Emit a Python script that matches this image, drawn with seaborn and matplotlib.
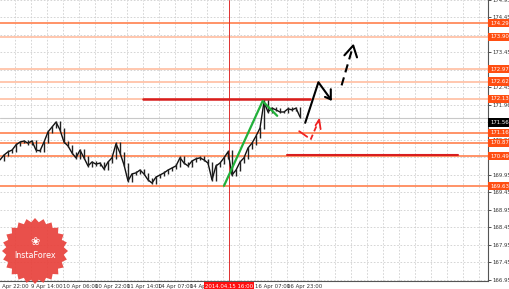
import numpy as np
import pandas as pd
import matplotlib
matplotlib.use("Agg")
import matplotlib.pyplot as plt
import matplotlib.transforms as mtransforms
from matplotlib.patches import Polygon
import seaborn as sns

# ---------------- data ----------------
hours = np.arange(0, 152, 2)
close = [170.38, 170.52, 170.61, 170.66, 170.81, 170.89, 170.92, 170.86, 170.92, 170.66,
         170.64, 170.89, 171.18, 171.32, 171.46, 171.24, 170.89, 170.78, 170.58, 170.44,
         170.66, 170.44, 170.21, 170.32, 170.26, 170.29, 170.12, 170.32, 170.44, 170.84,
         170.58, 170.24, 169.78, 169.98, 170.01, 170.09, 169.98, 169.81, 169.72, 169.89,
         169.95, 170.01, 170.09, 170.15, 170.21, 170.44, 170.29, 170.21, 170.35, 170.41,
         170.44, 170.38, 170.29, 169.81, 170.21, 170.29, 170.44, 170.61, 169.95, 170.09,
         170.32, 170.44, 170.72, 170.86, 171.06, 171.29, 172.04, 171.75, 171.86, 171.81,
         171.75, 171.75, 171.84, 171.81, 171.86, 171.61]

level_values = [174.29, 173.90, 172.97, 172.62, 172.13, 171.16, 170.87, 170.49, 169.63]
level_labels = ["174.29", "173.90", "172.97", "172.62", "172.13", "171.16", "170.87", "170.49", "169.63"]
level_strong = [True, False, False, False, False, True, True, True, True]

ytick_values = [174.95, 174.45, 173.95, 173.45, 172.95, 172.45, 171.96, 171.46, 170.96,
                170.46, 169.95, 169.45, 168.95, 168.45, 167.95, 167.45, 166.95]
ytick_labels = ["174.95", "174.45", "173.95", "173.45", "172.95", "172.45", "171.96", "171.46", "170.96",
                "170.46", "169.95", "169.45", "168.95", "168.45", "167.95", "167.45", "166.95"]

xtick_hours = [15.5, 31.5, 47.5, 63.5, 79, 95, 127.5, 143.5]
xtick_labels = ["9 Apr 14:00", "10 Apr 06:00", "10 Apr 22:00", "11 Apr 14:00",
                "14 Apr 07:00", "14 Apr 23:00", "16 Apr 07:00", "16 Apr 23:00"]
first_label_hour = -1.5
first_label = "8 Apr 22:00"

current_price = 171.57
current_label = "171.56"
cursor_hour = 114.5
cursor_label = "2014.04.15 16:00"

# analyst drawings (hour, price)
green_x = [112, 131.3, 138.6]
green_y = [169.64, 172.06, 171.64]
red_res_x = [71.5, 155]
red_res_y = [172.11, 172.11]
red_sup_x = [143.5, 229]
red_sup_y = [170.51, 170.51]
black_x = [152.6, 159.2, 165.4]
black_y = [171.44, 172.60, 172.11]
black_head_x = [162.5, 165.4, 165.4]
black_head_y = [172.18, 172.11, 172.40]
dash_x = [170.8, 176.6]
dash_y = [172.51, 173.65]
dash_head_x = [172.2, 176.6, 178.5]
dash_head_y = [173.37, 173.65, 173.31]
redarrow_x = [149.6, 153.6]
redarrow_y = [171.20, 171.04]
reddash_x = [155.3, 159.6]
reddash_y = [170.96, 171.53]
redhead_x = [157.8, 159.6, 160.3]
redhead_y = [171.37, 171.53, 171.26]

# ---------------- figure ----------------
sns.set_style("white")
plt.rcParams['font.family'] = ['DejaVu Sans']

FS = 3.9
W, H = 510, 289
fig = plt.figure(figsize=(W / 100, H / 100), dpi=100)
ax = fig.add_axes([0, 8 / H, 488 / W, 281 / H])
ax.set_xlim(0, 244)
ax.set_ylim(166.92, 174.95)

# grid
for v in ytick_values:
    ax.axhline(v, color="#cfcfcf", lw=0.6, ls=(0, (2, 2)), zorder=0)
for gx in np.arange(7.5, 244, 8):
    ax.axvline(gx, color="#cfcfcf", lw=0.6, ls=(0, (2, 2)), zorder=0)

# level lines
for v, strong in zip(level_values, level_strong):
    ax.axhline(v, color="#ff8a5c" if strong else "#ffc3a8", lw=1.3, zorder=1)

# current price line
ax.axhline(current_price, color="#c8c8c8", lw=0.8, zorder=1)

# cursor line
ax.axvline(cursor_hour, color="#e03030", lw=0.7, zorder=1)

# price series
df = pd.DataFrame({"hour": hours, "close": close})
sns.lineplot(data=df, x="hour", y="close", ax=ax, color="#111111", lw=1.0, zorder=3)
lo = np.minimum(df["close"].values[:-1], df["close"].values[1:])
hi = np.maximum(df["close"].values[:-1], df["close"].values[1:])
ax.vlines(df["hour"].values[1:], lo - 0.04, hi + 0.04, color="#222222", lw=1.0, zorder=3)

# drawings
ax.plot(green_x, green_y, color="#22b03a", lw=1.6, zorder=4)
ax.plot(red_res_x, red_res_y, color="#d81e1e", lw=1.8, zorder=2)
ax.plot(red_sup_x, red_sup_y, color="#d81e1e", lw=1.5, zorder=2)
ax.plot(black_x, black_y, color="black", lw=1.5, zorder=4)
ax.plot(black_head_x, black_head_y, color="black", lw=1.5, zorder=4)
ax.plot(dash_x, dash_y, color="black", lw=1.5, ls=(0, (4, 2.5)), zorder=4)
ax.plot(dash_head_x, dash_head_y, color="black", lw=1.5, zorder=4)
ax.plot(redarrow_x, redarrow_y, color="#ee2222", lw=1.3, zorder=4)
ax.plot(reddash_x, reddash_y, color="#ee2222", lw=1.3, ls=(0, (3, 2)), zorder=4)
ax.plot(redhead_x, redhead_y, color="#ee2222", lw=1.3, zorder=4)

# axes styling
for s in ["top", "left"]:
    ax.spines[s].set_visible(False)
for s in ["right", "bottom"]:
    ax.spines[s].set_color("#555555")
    ax.spines[s].set_linewidth(0.8)
ax.set_xlabel("")
ax.set_ylabel("")
ax.yaxis.tick_right()
ax.set_yticks(ytick_values)
ax.set_yticklabels(ytick_labels)
ax.tick_params(axis="y", labelsize=FS, length=2, width=0.6, pad=1.5, colors="#333333")
ax.set_xticks(xtick_hours)
ax.set_xticklabels(xtick_labels)
ax.tick_params(axis="x", labelsize=FS, length=2, width=0.6, pad=0.3, colors="#333333")
for t in ax.get_xticklabels():
    t.set_ha("left")

xt = mtransforms.blended_transform_factory(ax.transData, ax.transAxes)
ax.text(first_label_hour, -0.009, first_label, transform=xt, ha="left", va="top",
        fontsize=FS, color="#333333", clip_on=False)
ax.text(cursor_hour, -0.009, cursor_label, transform=xt, ha="center", va="top",
        fontsize=FS, color="white", clip_on=False, zorder=6,
        bbox=dict(boxstyle="square,pad=0.2", fc="#ff1010", ec="none"))

yt = mtransforms.blended_transform_factory(ax.transAxes, ax.transData)
for v, lab in zip(level_values, level_labels):
    ax.text(1.004, v, lab, transform=yt, ha="left", va="center", fontsize=FS,
            color="white", clip_on=False, zorder=6,
            bbox=dict(boxstyle="square,pad=0.3", fc="#ff4e12", ec="none"))
ax.text(1.004, current_price - 0.12, current_label, transform=yt, ha="left", va="center",
        fontsize=FS, color="white", clip_on=False, zorder=6,
        bbox=dict(boxstyle="square,pad=0.3", fc="black", ec="none"))

# logo (decoration)
cx, cy = 35 / W, 1 - 251 / H
n = 24
ang = np.linspace(0, 2 * np.pi, 2 * n, endpoint=False)
rad = np.where(np.arange(2 * n) % 2 == 0, 33, 29)
pts = np.c_[cx + rad * np.cos(ang) / W, cy + rad * np.sin(ang) / H]
fig.patches.append(Polygon(pts, closed=True, transform=fig.transFigure,
                           fc="#e8413b", ec="none", alpha=0.92, zorder=10))
fig.text(cx, cy - 5 / H, "InstaForex", ha="center", va="center", fontsize=5.8,
         color="white", zorder=11)
fig.text(cx, cy + 9 / H, "\u2740", ha="center", va="center", fontsize=8,
         color="white", zorder=11)

fig.savefig("out.png", dpi=100)
